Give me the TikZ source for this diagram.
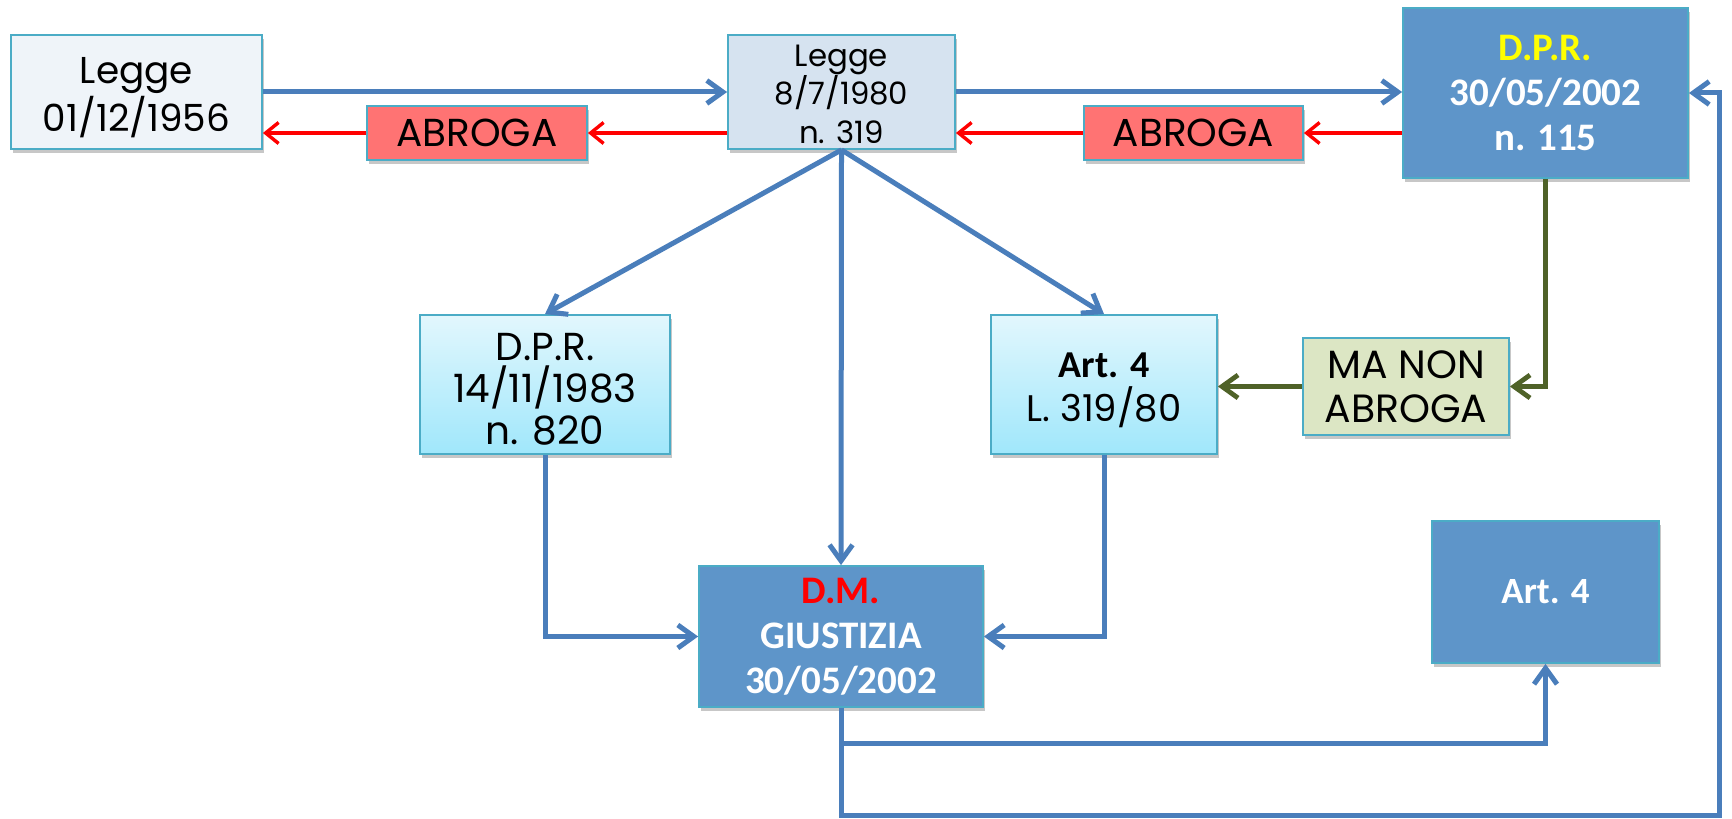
\documentclass[tikz,border=0pt]{standalone}
\usepackage{fontspec}
\setmainfont{Poppins}
\newfontfamily\carl{Carlito}
\usetikzlibrary{arrows.meta,shadows}
\definecolor{bord}{RGB}{75,172,198}
\definecolor{arrblue}{RGB}{74,126,187}
\definecolor{boxblue}{RGB}{94,149,201}
\definecolor{palebox}{RGB}{239,244,249}
\definecolor{lightbox}{RGB}{214,227,240}
\definecolor{salmon}{RGB}{255,115,115}
\definecolor{cyantop}{RGB}{226,247,253}
\definecolor{cyanbot}{RGB}{160,231,251}
\definecolor{greenbox}{RGB}{220,230,196}
\definecolor{olive}{RGB}{79,98,40}
\definecolor{ylw}{RGB}{255,255,0}
\definecolor{rd}{RGB}{255,0,0}
\tikzset{
  sz/.style 2 args={minimum width=#1*0.5pt, minimum height=#2*0.5pt},
  box/.style={draw=bord, line width=0.9pt, inner sep=0pt, align=center,
    drop shadow={shadow xshift=1.2pt, shadow yshift=-2pt, opacity=0.22, fill=black}},
  txt/.style={inner sep=0pt, align=center},
  boldtext/.style={font=\carl\bfseries\fontsize{19.5}{22.5}\selectfont, text=white},
  bluearr/.style={draw=arrblue, line width=2.5pt, -{Straight Barb[length=8pt, width=11.5pt]}},
  redarr/.style={draw=red, line width=1.7pt, -{Straight Barb[length=6.5pt, width=10.5pt]}},
  greenarr/.style={draw=olive, line width=2.4pt, -{Straight Barb[length=8pt, width=11.5pt]}},
}
\begin{document}
\begin{tikzpicture}[x=0.5pt, y=-0.5pt]
\useasboundingbox (0,0) rectangle (1732,818);
% nodes
\node[box, sz={251}{114}, fill=palebox] (L56) at (136.5,92) {};
\node[txt, font=\fontsize{18.7}{21}\selectfont] (L56t) at ([yshift=-2.8pt]L56.center) {Legge\\01/12/1956};
\node[box, sz={220}{54}, fill=salmon, font=\fontsize{19.5}{22}\selectfont] (AB1) at (477,133) {ABROGA};
\node[box, sz={227}{114}, fill=lightbox] (L80) at (841.5,92) {};
\node[txt, font=\fontsize{15.4}{19.3}\selectfont] (L80t) at ([yshift=-1pt]L80.center) {Legge\\8/7/1980\\n. 319};
\node[box, sz={219}{54}, fill=salmon, font=\fontsize{19.5}{22}\selectfont] (AB2) at (1193.5,133) {ABROGA};
\node[box, sz={285}{170}, fill=boxblue, boldtext] (DPR) at (1545.5,93) {{\color{ylw}D.P.R.}\\30/05/2002\\n. 115};
\node[box, sz={250}{139}, top color=cyantop, bottom color=cyanbot] (D83) at (545,384.5) {};
\node[txt, font=\fontsize{19.5}{21}\selectfont] (D83t) at ([yshift=-2.4pt]D83.center) {D.P.R.\\14/11/1983\\n. 820};
\node[box, sz={226}{139}, top color=cyantop, bottom color=cyanbot] (A4L) at (1104,384.5) {};
\node[txt, font=\fontsize{18.5}{22}\selectfont] (A4Lt) at ([yshift=-3pt]A4L.center) {{\carl\bfseries\fontsize{19}{22}\selectfont Art. 4}\\L. 319/80};
\node[box, sz={206}{97}, fill=greenbox, font=\fontsize{19.7}{22}\selectfont] (MA) at (1406,386.5) {MA NON\\ABROGA};
\node[box, sz={284}{141}, fill=boxblue, boldtext] (DM) at (841,636.5) {{\color{rd}D.M.}\\GIUSTIZIA\\30/05/2002};
\node[box, sz={227}{142}, fill=boxblue, boldtext, font=\carl\bfseries\fontsize{18.5}{22}\selectfont] (A4) at (1545.5,592) {Art. 4};
% helper coordinates
\coordinate (c1) at (841,743);
\coordinate (c2) at (1719,815);
% connectors
\draw[bluearr] (L56.east) -- (L80.west);
\draw[bluearr] (L80.east) -- (L80.east -| DPR.west);
\draw[redarr] (AB1.east -| L80.west) -- (AB1.east);
\draw[redarr] (AB1.west) -- (AB1.west -| L56.east);
\draw[redarr] (AB2.east -| DPR.west) -- (AB2.east);
\draw[redarr] (AB2.west) -- (AB2.west -| L80.east);
\draw[bluearr] (L80.south) -- (D83.north);
\draw[bluearr] (L80.south) -- (DM.north);
\draw[bluearr] (L80.south) -- (A4L.north);
\draw[bluearr] (D83.south) |- (DM.west);
\draw[bluearr] (A4L.south) |- (DM.east);
\draw[greenarr] (DPR.south) |- (MA.east);
\draw[greenarr] (MA.west) -- (MA.west -| A4L.east);
\draw[bluearr] (DM.south) -- (c1) -| (A4.south);
\draw[bluearr] (DM.south) |- (c2) |- (DPR.east);
\end{tikzpicture}
\end{document}
